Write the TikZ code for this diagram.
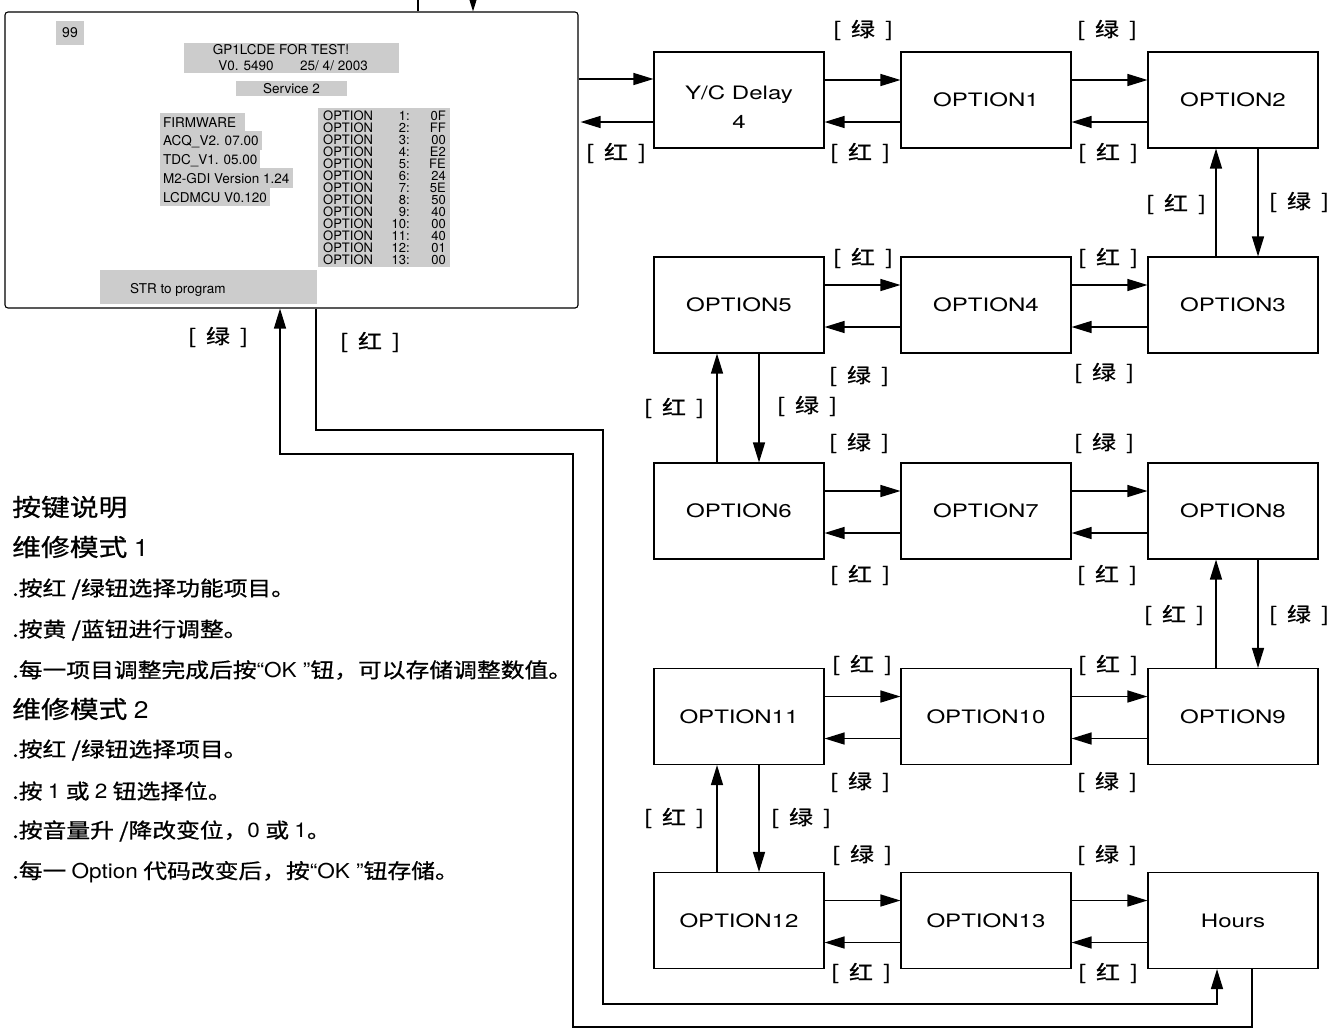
\documentclass[tikz,border=0pt]{standalone}
\usepackage{fontspec}
\setmainfont{TeX Gyre Heros}
\newfontfamily\cjkt[FakeStretch=1.16,FakeBold=0.8]{Noto Sans CJK SC}
\newfontfamily\cjkh[FakeStretch=1.2,FakeBold=0.8]{Noto Sans CJK SC}
\newfontfamily\cjkl[FakeStretch=1.2,FakeBold=0.8]{Noto Sans CJK SC}
\newfontfamily\wlat[FakeStretch=1.3]{TeX Gyre Heros}
\newfontfamily\llat[FakeStretch=1.1]{TeX Gyre Heros}
\usetikzlibrary{arrows.meta,calc}
\definecolor{lcdgray}{HTML}{CCCCCC}
\newcommand\labG{[\hspace{10pt}绿\hspace{10pt}]}
\newcommand\labR{[\hspace{10pt}红\hspace{10pt}]}
\newcommand\hpair[2]{%
  \draw[arr] ($(#1.east)+(0,-20)$) -- ($(#2.west)+(0,-20)$);
  \draw[arr] ($(#2.west)+(0,22)$) -- ($(#1.east)+(0,22)$);}
\newcommand\vpair[4]{%
  \draw[arr] ($(#2.north)+(#3,0)$) -- ($(#1.south)+(#3,0)$);
  \draw[arr] ($(#1.south)+(#4,0)$) -- ($(#2.north)+(#4,0)$);}
\tikzset{
  box/.style={draw, line width=1.1pt, minimum width=170pt, minimum height=96pt,
    inner sep=0pt, align=center, font=\wlat\fontsize{18.5}{29}\selectfont},
  arr/.style={line width=1.4pt, -{Triangle[length=20pt,width=12pt]}},
  ln/.style={line width=1.4pt},
  lab/.style={inner sep=0pt, font=\cjkl\fontsize{20}{22}\selectfont},
  gbox/.style={fill=lcdgray, inner sep=0pt},
  st/.style={inner sep=0pt, font=\fontsize{13.5}{14}\selectfont},
  so/.style={inner sep=0pt, font=\fontsize{13}{13}\selectfont},
  lh/.style={anchor=west, inner sep=0pt, font=\cjkh\fontsize{24}{28}\selectfont},
  li/.style={anchor=west, inner sep=0pt, font=\cjkt\fontsize{20.5}{24}\selectfont},
}
\begin{document}
\begin{tikzpicture}[x=1pt,y=-1pt]
\useasboundingbox (0,0) rectangle (1343,1028);

% ---------- screen panel ----------
\node[draw, line width=1.1pt, rounded corners=3pt, minimum width=573pt,
  minimum height=296pt, inner sep=0pt] (scr) at (291.5,160) {};
\node[gbox, minimum width=28pt, minimum height=24pt, font=\fontsize{14}{14}\selectfont] (g99) at (70,33) {99};
\node[gbox, minimum width=215pt, minimum height=30pt] (gtitle) at (291.5,58) {};
\node[st] (t1) at (281,50) {GP1LCDE FOR TEST!};
\node[st] (t2) at (246,66) {V0. 5490};
\node[st] (t3) at (334,66) {25/ 4/ 2003};
\node[gbox, minimum width=111pt, minimum height=15pt, font=\fontsize{13.5}{14}\selectfont] (gsvc) at (291.5,88.5) {Service 2};
\node[gbox, minimum width=85pt, minimum height=18pt] (gf1) at (202.5,122) {};
\node[gbox, minimum width=102pt, minimum height=19pt] (gf2) at (211,140.5) {};
\node[gbox, minimum width=100pt, minimum height=18pt] (gf3) at (210,159) {};
\node[gbox, minimum width=133pt, minimum height=20pt] (gf4) at (226.5,178) {};
\node[gbox, minimum width=110pt, minimum height=18pt] (gf5) at (215,197) {};
\node[st, anchor=west] (f1) at (163,123) {FIRMWARE};
\node[st, anchor=west] (f2) at (163,142) {ACQ\_V2. 07.00};
\node[st, anchor=west] (f3) at (163,161) {TDC\_V1. 05.00};
\node[st, anchor=west] (f4) at (163,179) {M2-GDI Version 1.24};
\node[st, anchor=west] (f5) at (163,198) {LCDMCU V0.120};
\node[gbox, minimum width=132pt, minimum height=159pt] (gopt) at (384,187.5) {};
\foreach \i/\v in {1/0F,2/FF,3/00,4/E2,5/FE,6/24,7/5E,8/50,9/40,10/00,11/40,12/01,13/00}{
  \node[so, anchor=west] (ol\i) at (323,104+12*\i) {OPTION};
  \node[so, anchor=east] (on\i) at (410,104+12*\i) {\i:};
  \node[so, anchor=east] (ov\i) at (446,104+12*\i) {\v};
}
\node[gbox, minimum width=217pt, minimum height=34pt] (gstr) at (208.5,287) {};
\node[st, anchor=west] (tstr) at (130,290) {STR to program};

% ---------- option boxes ----------
\node[box] (yc)  at (739,100) {\rule{0pt}{28pt}Y/C Delay\\4};
\node[box] (o1)  at (986,100) {OPTION1};
\node[box] (o2)  at (1233,100) {OPTION2};
\node[box] (o5)  at (739,305) {OPTION5};
\node[box] (o4)  at (986,305) {OPTION4};
\node[box] (o3)  at (1233,305) {OPTION3};
\node[box] (o6)  at (739,511) {OPTION6};
\node[box] (o7)  at (986,511) {OPTION7};
\node[box] (o8)  at (1233,511) {OPTION8};
\node[box] (o11) at (739,716.5) {OPTION11};
\node[box] (o10) at (986,716.5) {OPTION10};
\node[box] (o9)  at (1233,716.5) {OPTION9};
\node[box] (o12) at (739,920.5) {OPTION12};
\node[box] (o13) at (986,920.5) {OPTION13};
\node[box] (hrs) at (1233,920.5) {Hours};

% ---------- connectors ----------
\coordinate (ycu) at ($(yc.west)+(0,-21)$);
\coordinate (ycl) at ($(yc.west)+(0,22)$);
\draw[arr] (scr.east |- ycu) -- (ycu);
\draw[arr] (ycl) -- ($(scr.east |- ycl)+(2,0)$);
\hpair{yc}{o1}
\hpair{o1}{o2}
\hpair{o5}{o4}
\hpair{o4}{o3}
\hpair{o6}{o7}
\hpair{o7}{o8}
\hpair{o11}{o10}
\hpair{o10}{o9}
\hpair{o12}{o13}
\hpair{o13}{hrs}
\vpair{o2}{o3}{-17}{25}
\vpair{o5}{o6}{-22}{20}
\vpair{o8}{o9}{-17}{25}
\vpair{o11}{o12}{-22}{20}

% top stubs
\coordinate (tp1) at (418,0);
\coordinate (tp2) at (473,-4);
\draw[ln] (tp1) -- (tp1 |- scr.north);
\draw[arr] (tp2) -- (tp2 |- scr.north);

% loops between screen and Hours
\coordinate (rA) at (603,430);
\coordinate (rB) at (603,1004);
\draw[arr] ($(scr.south)+(24.5,0)$) |- (rA) -- (rB) -| ($(hrs.south)+(-16,0)$);
\coordinate (gA) at (573,1027);
\coordinate (gB) at (573,454);
\draw[arr] ($(hrs.south)+(19,0)$) |- (gA) -- (gB) -| ($(scr.south)+(-11.5,0)$);

% ---------- labels ----------
\node[lab] (l1) at (863,30) {\labG};
\node[lab] (l2) at (1107,30) {\labG};
\node[lab] (l3) at (616,153) {\labR};
\node[lab] (l4) at (860,153) {\labR};
\node[lab] (l5) at (1108,153) {\labR};
\node[lab] (l6) at (1176,204) {\labR};
\node[lab] (l7) at (1299,202) {\labG};
\node[lab] (l8) at (863,258) {\labR};
\node[lab] (l9) at (1108,258) {\labR};
\node[lab] (l10) at (859,376) {\labG};
\node[lab] (l11) at (1104,373) {\labG};
\node[lab] (l12) at (674,408) {\labR};
\node[lab] (l13) at (807,406) {\labG};
\node[lab] (l14) at (859,443) {\labG};
\node[lab] (l15) at (1104,443) {\labG};
\node[lab] (l16) at (860,575) {\labR};
\node[lab] (l17) at (1107,575) {\labR};
\node[lab] (l18) at (1174,615) {\labR};
\node[lab] (l19) at (1299,615) {\labG};
\node[lab] (l20) at (862,665) {\labR};
\node[lab] (l21) at (1108,665) {\labR};
\node[lab] (l22) at (860,782) {\labG};
\node[lab] (l23) at (1107,782) {\labG};
\node[lab] (l24) at (674,818) {\labR};
\node[lab] (l25) at (801,818) {\labG};
\node[lab] (l26) at (862,855) {\labG};
\node[lab] (l27) at (1107,855) {\labG};
\node[lab] (l28) at (861,973) {\labR};
\node[lab] (l29) at (1108,973) {\labR};
\node[lab] (l30) at (218,337) {\labG};
\node[lab] (l31) at (370,342) {\labR};

% ---------- key description ----------
\node[lh] (h0) at (12,507) {按键说明};
\node[lh] (h1) at (12,547) {维修模式 {\llat 1}};
\node[li] (i1) at (12,589) {.按红 /绿钮选择功能项目。};
\node[li] (i2) at (12,630) {.按黄 /蓝钮进行调整。};
\node[li] (i3) at (12,670) {.每一项目调整完成后按{\llat “OK ”}钮，可以存储调整数值。};
\node[lh] (h2) at (12,709) {维修模式 {\llat 2}};
\node[li] (i4) at (12,750) {.按红 /绿钮选择项目。};
\node[li] (i5) at (12,791) {.按 {\llat 1} 或 {\llat 2} 钮选择位。};
\node[li] (i6) at (12,831) {.按音量升 /降改变位，{\llat 0} 或 {\llat 1}。};
\node[li] (i7) at (12,872) {.每一 {\llat Option} 代码改变后，按{\llat “OK ”}钮存储。};
\end{tikzpicture}
\end{document}
